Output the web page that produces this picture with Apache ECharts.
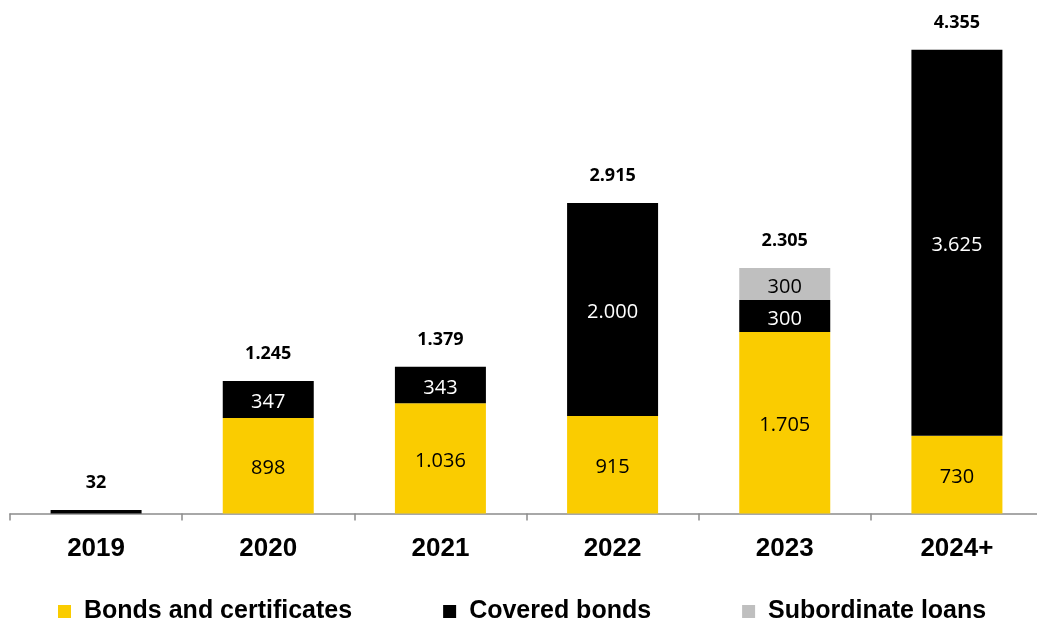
<!DOCTYPE html>
<html>
<head>
<meta charset="utf-8">
<script src="https://cdn.jsdelivr.net/npm/echarts@6/dist/echarts.min.js"></script>
<style>
html,body{margin:0;padding:0;background:#fff;}
#chart{width:1037px;height:623px;}
</style>
</head>
<body>
<div id="chart"></div>
<script>
const categories = ['2019', '2020', '2021', '2022', '2023', '2024+'];
const bondsAndCertificates = [0, 898, 1036, 915, 1705, 730];
const coveredBonds = [32, 347, 343, 2000, 300, 3625];
const subordinateLoans = [0, 0, 0, 0, 300, 0];
const totals = [32, 1245, 1379, 2915, 2305, 4355];

function fmt(v) {
  return String(v).replace(/\B(?=(\d{3})+(?!\d))/g, '.');
}
const inside = (color) => ({
  show: true,
  position: 'inside',
  offset: [0, 3],
  color: color,
  fontFamily: 'Open Sans',
  fontSize: 20,
  formatter: p => (p.value >= 100 ? fmt(p.value) : '')
});

const chart = echarts.init(document.getElementById('chart'), null, {renderer: 'canvas'});
chart.setOption({
  animation: false,
  backgroundColor: '#ffffff',
  grid: {left: 10, width: 1033, top: 45, bottom: 109.5, containLabel: false, outerBoundsMode: 'none'},
  legend: {
    bottom: -6,
    left: 53,
    itemWidth: 13,
    itemHeight: 13,
    itemGap: 91,
    icon: 'rect',
    textStyle: {fontFamily: 'Liberation Sans', fontWeight: 'bold', fontSize: 25, color: '#000', padding: [0, 0, 0, 8]},
    data: ['Bonds and certificates', 'Covered bonds', 'Subordinate loans']
  },
  xAxis: {
    type: 'category',
    data: categories,
    axisLine: {lineStyle: {color: '#8c8c8c', width: 1.5}},
    axisTick: {show: true, length: 7, lineStyle: {color: '#8c8c8c', width: 1.5}},
    axisLabel: {fontFamily: 'Liberation Sans', fontWeight: 'bold', fontSize: 26, color: '#000', margin: 22}
  },
  yAxis: {type: 'value', min: 0, max: 4400, show: false, splitLine: {show: false}},
  series: [
    {name: 'Bonds and certificates', type: 'bar', stack: 'a', barWidth: 91, data: bondsAndCertificates,
     itemStyle: {color: '#FACC00'}, label: inside('#000')},
    {name: 'Covered bonds', type: 'bar', stack: 'a', barWidth: 91, data: coveredBonds,
     itemStyle: {color: '#000000'}, label: inside('#fff')},
    {name: 'Subordinate loans', type: 'bar', stack: 'a', barWidth: 91, data: subordinateLoans,
     itemStyle: {color: '#BFBFBF'}, label: inside('#000')},
    {name: 'Total', type: 'bar', barWidth: 91, barGap: '-100%', data: totals, z: 1,
     itemStyle: {color: 'rgba(0,0,0,0)'},
     label: {show: true, position: 'top', distance: 18, color: '#000', fontFamily: 'Open Sans', fontWeight: 'bold', fontSize: 18,
             formatter: p => fmt(p.value)},
     tooltip: {show: false}}
  ]
});
</script>
</body>
</html>
